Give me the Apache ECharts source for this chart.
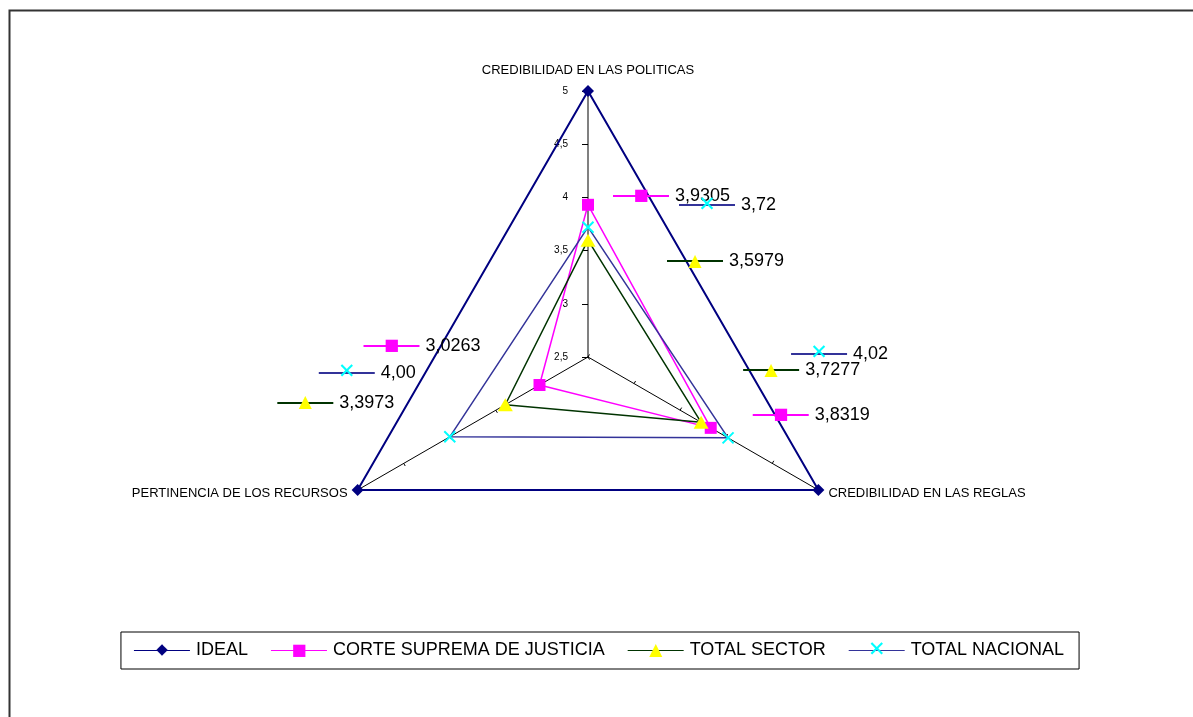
<!DOCTYPE html>
<html><head><meta charset="utf-8">
<script src="https://cdn.jsdelivr.net/npm/echarts@6/dist/echarts.min.js"></script>
<style>html,body{margin:0;padding:0;background:#fff}#chart{width:1193px;height:717px}</style>
</head><body><div id="chart"></div>
<script>
// ---- data ----
const indicatorNames = ['CREDIBILIDAD EN LAS POLITICAS', 'PERTINENCIA DE LOS RECURSOS', 'CREDIBILIDAD EN LAS REGLAS'];
const axisMin = 2.5;
const axisMax = 5;
const seriesNames = ['IDEAL', 'CORTE SUPREMA DE JUSTICIA', 'TOTAL SECTOR', 'TOTAL NACIONAL'];
const idealValues = [5, 5, 5];
const corteValues = [3.9305, 3.0263, 3.8319];
const sectorValues = [3.5979, 3.3973, 3.7277];
const nacionalValues = [3.72, 4.00, 4.02];
const labelDecimals = [null, 4, 4, 2];

// ---- styles ----
const seriesValues = [idealValues, corteValues, sectorValues, nacionalValues];
const lineColors = ['#000080', '#FF00FF', '#003300', '#333399'];
const markerColors = ['#000080', '#FF00FF', '#FFFF00', '#00FFFF'];
const markerGlyphs = ['◆', '■', '▲', '✕'];
const markerGlyphSize = [15, 16, 17, 21];
const chartSymbols = ['diamond', 'rect', 'triangle', 'path://M0,0L10,10M10,0L0,10'];
const chartSymbolSizes = [12, 12, [15, 13], 11];
const labelOffsets = [null,
  [[25, -9], [-176, -39], [42, -13]],
  [[79, 21], [-228, -2], [42, -52]],
  [[91, -22], [-131, -64], [63, -84]]];

function keyBg(color) {
  const t = 'rgba(255,255,255,0)';
  return new echarts.graphic.LinearGradient(0, 0, 0, 1, [
    {offset: 0, color: t}, {offset: 0.44, color: t},
    {offset: 0.44, color: color}, {offset: 0.56, color: color},
    {offset: 0.56, color: t}, {offset: 1, color: t}]);
}
function fmt(v, d) { return (d == null ? String(v) : v.toFixed(d)).replace('.', ','); }

const rich = {
  v: {fontFamily: 'Liberation Sans', fontSize: 18, color: '#000', padding: [0, 0, 0, 6]},
  t: {fontFamily: 'Liberation Sans', fontSize: 18, color: '#000', padding: [0, 0, 0, 6]}
};
seriesNames.forEach((n, i) => {
  rich['k' + i] = {width: 56, height: 16, align: 'center', fontFamily: 'DejaVu Sans',
    fontSize: markerGlyphSize[i], color: markerColors[i], backgroundColor: keyBg(lineColors[i])};
});

const data = [];
seriesNames.forEach((name, i) => {
  data.push({
    name: name, value: seriesValues[i],
    symbol: chartSymbols[i], symbolSize: chartSymbolSizes[i],
    itemStyle: {color: markerColors[i], borderColor: markerColors[i], borderWidth: i === 3 ? 2 : 0},
    lineStyle: {color: lineColors[i], width: i === 0 ? 2 : 1.5},
    areaStyle: {opacity: 0},
    label: {show: false}
  });
});
seriesNames.forEach((name, i) => {
  if (!labelOffsets[i]) return;
  const vals = seriesValues[i];
  vals.forEach((v, d) => {
    data.push({
      name: name + ' #' + d, value: vals,
      symbol: 'circle', symbolSize: 2,
      itemStyle: {color: 'rgba(0,0,0,0)', borderWidth: 0},
      lineStyle: {width: 0, opacity: 0},
      label: {
        show: true, position: 'inside', align: 'left', verticalAlign: 'middle',
        offset: labelOffsets[i][d],
        formatter: function (p) {
          const di = p.dimensionIndex != null ? p.dimensionIndex : vals.indexOf(p.value);
          return di === d ? '{k' + i + '|' + markerGlyphs[i] + '}{v|' + fmt(vals[d], labelDecimals[i]) + '}' : '';
        },
        rich: rich
      }
    });
  });
});

const chart = echarts.init(document.getElementById('chart'), null, {renderer: 'canvas'});
chart.setOption({
  backgroundColor: '#fff',
  animation: false,
  graphic: [{type: 'rect', shape: {x: 9.5, y: 10.5, width: 1300, height: 800},
    style: {fill: 'none', stroke: '#333', lineWidth: 2}, silent: true}],
  legend: {
    data: seriesNames, left: 'center', top: 632, icon: 'none', itemWidth: 0, itemHeight: 20,
    itemGap: 18, padding: [8, 15, 8, 8], borderColor: '#000', borderWidth: 1, selectedMode: false,
    formatter: function (name) {
      const i = seriesNames.indexOf(name);
      return '{k' + i + '|' + markerGlyphs[i] + '}{t|' + name + '}';
    },
    textStyle: {rich: rich}
  },
  radar: {
    center: [588, 357], radius: 266, startAngle: 90, shape: 'polygon', splitNumber: 5,
    nameGap: 7,
    axisName: {color: '#000', fontFamily: 'Liberation Sans', fontSize: 13, padding: [0, 4, 7, 4]},
    splitLine: {show: false}, splitArea: {show: false},
    axisLine: {show: true, lineStyle: {color: '#000', width: 1}},
    axisTick: {show: true, length: 3, lineStyle: {color: '#000', width: 1}},
    axisLabel: {show: false},
    indicator: indicatorNames.map((n, i) => i === 0 ? {
      name: n, min: axisMin, max: axisMax,
      axisLine: {lineStyle: {color: '#808080', width: 2}},
      axisTick: {length: 6},
      axisLabel: {show: true, color: '#000', fontSize: 10, fontFamily: 'Liberation Sans', margin: 20,
        formatter: v => String(v).replace('.', ',')}
    } : {name: n, min: axisMin, max: axisMax})
  },
  series: [{type: 'radar', emphasis: {disabled: true}, silent: true, data: data}]
});
</script></body></html>
